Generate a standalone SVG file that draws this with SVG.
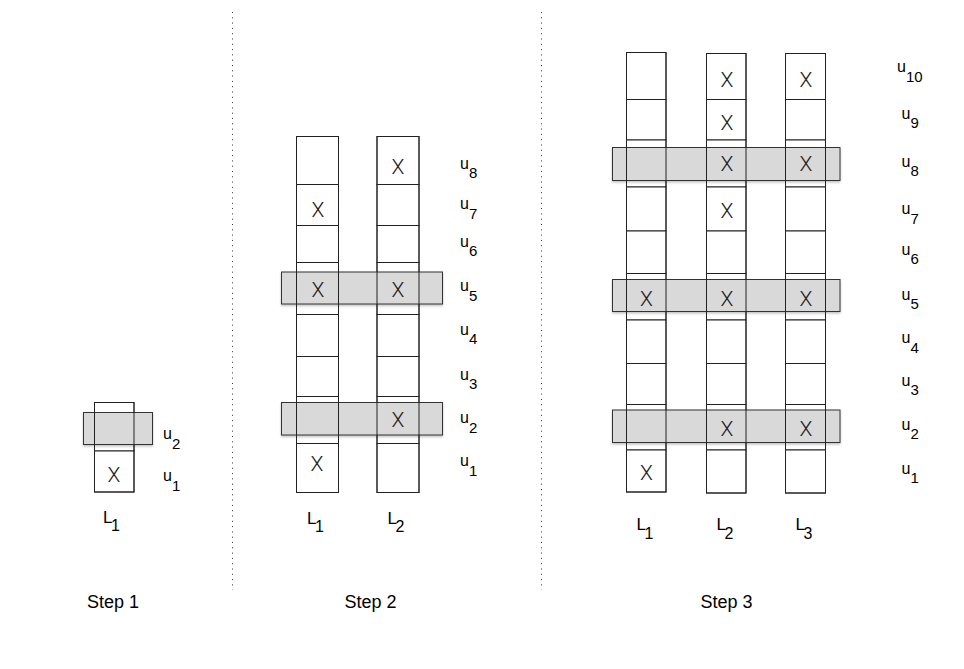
<svg xmlns="http://www.w3.org/2000/svg" width="964" height="669" viewBox="0 0 964 669">
<style>
.cell{fill:#fff;stroke:#222;stroke-width:1}
.col{fill:none;stroke:#222;stroke-width:1}
.band{fill:#d9d9d9;stroke:#333;stroke-width:1;filter:url(#sh)}
.x{font-family:Roboto,"Liberation Sans",sans-serif;font-weight:300;font-size:21px;fill:#222;text-anchor:middle}
.u{font-family:"Liberation Sans",Arial,sans-serif;font-size:16px;fill:#000}
.d{font-size:15px}
.L{font-family:"Liberation Sans",Arial,sans-serif;font-size:17px;fill:#000}
.Ld{font-size:16px}
.step{font-family:"Liberation Sans",Arial,sans-serif;font-size:18px;fill:#000;text-anchor:middle}
.sep{stroke:#333;stroke-width:1;stroke-dasharray:1 4.3;fill:none}
</style>
<defs>
<filter id="sh" x="-5%" y="-30%" width="110%" height="170%">
<feDropShadow dx="0" dy="1.5" stdDeviation="1.2" flood-color="#000" flood-opacity="0.25"/>
</filter>
</defs>
<rect width="964" height="669" fill="#fff"/>

<g id="separators">
<line class="sep" x1="232.5" y1="12" x2="232.5" y2="590"/>
<line class="sep" x1="541.5" y1="12" x2="541.5" y2="590"/>
</g>

<g id="step1">
<g id="s1-L1-cells">
<rect class="cell" x="94.5" y="402.5" width="39.5" height="48.5"/>
<rect class="cell" x="94.5" y="451" width="39.5" height="41"/>
</g>
<g id="s1-band-u2"><rect class="band" x="83.5" y="412.5" width="69" height="32"/></g>
<g id="s1-L1">
<rect class="col" x="94.5" y="402.5" width="39.5" height="89.5"/>
<text class="x" x="114" y="481.5">X</text>
</g>
<g id="s1-labels">
<text class="u" x="163" y="439">u<tspan class="d" dy="9.5">2</tspan></text>
<text class="u" x="163" y="481">u<tspan class="d" dy="9.5">1</tspan></text>
<text class="L" x="103" y="523">L<tspan class="Ld" dx="-1.5" dy="7.5">1</tspan></text>
</g>
<text class="step" x="113" y="608">Step 1</text>
</g>

<g id="step2">
<g id="s2-cells">
<rect class="cell" x="296.5" y="136.5" width="42" height="48"/>
<rect class="cell" x="296.5" y="184.5" width="42" height="41"/>
<rect class="cell" x="296.5" y="225.5" width="42" height="37"/>
<rect class="cell" x="296.5" y="262.5" width="42" height="52"/>
<rect class="cell" x="296.5" y="314.5" width="42" height="42"/>
<rect class="cell" x="296.5" y="356.5" width="42" height="40"/>
<rect class="cell" x="296.5" y="396.5" width="42" height="47"/>
<rect class="cell" x="296.5" y="443.5" width="42" height="49"/>
<rect class="cell" x="377" y="136.5" width="42" height="48"/>
<rect class="cell" x="377" y="184.5" width="42" height="41"/>
<rect class="cell" x="377" y="225.5" width="42" height="37"/>
<rect class="cell" x="377" y="262.5" width="42" height="52"/>
<rect class="cell" x="377" y="314.5" width="42" height="42"/>
<rect class="cell" x="377" y="356.5" width="42" height="40"/>
<rect class="cell" x="377" y="396.5" width="42" height="47"/>
<rect class="cell" x="377" y="443.5" width="42" height="49"/>
</g>
<g id="s2-band-u5"><rect class="band" x="281.5" y="272" width="161" height="32"/></g>
<g id="s2-band-u2"><rect class="band" x="281.5" y="402.5" width="161" height="32.5"/></g>
<g id="s2-L1">
<rect class="col" x="296.5" y="136.5" width="42" height="356"/>
<text class="x" x="318" y="216.5">X</text>
<text class="x" x="318" y="297">X</text>
<text class="x" x="317" y="471">X</text>
</g>
<g id="s2-L2">
<rect class="col" x="377" y="136.5" width="42" height="356"/>
<text class="x" x="398" y="173.5">X</text>
<text class="x" x="398" y="297">X</text>
<text class="x" x="398" y="427">X</text>
</g>
<g id="s2-labels">
<text class="u" x="460" y="168.5">u<tspan class="d" dy="9.5">8</tspan></text>
<text class="u" x="460" y="209.2">u<tspan class="d" dy="9.5">7</tspan></text>
<text class="u" x="460" y="246.5">u<tspan class="d" dy="9.5">6</tspan></text>
<text class="u" x="460" y="291">u<tspan class="d" dy="9.5">5</tspan></text>
<text class="u" x="460" y="334.5">u<tspan class="d" dy="9.5">4</tspan></text>
<text class="u" x="460" y="379.5">u<tspan class="d" dy="9.5">3</tspan></text>
<text class="u" x="460" y="423">u<tspan class="d" dy="9.5">2</tspan></text>
<text class="u" x="460" y="466">u<tspan class="d" dy="9.5">1</tspan></text>
<text class="L" x="307" y="524">L<tspan class="Ld" dx="-1.5" dy="7.5">1</tspan></text>
<text class="L" x="387.5" y="524">L<tspan class="Ld" dx="-1.5" dy="7.5">2</tspan></text>
</g>
<text class="step" x="370.5" y="608">Step 2</text>
</g>

<g id="step3">
<g id="s3-cells">
<rect class="cell" x="626.5" y="52.5" width="39.5" height="47"/>
<rect class="cell" x="626.5" y="99.5" width="39.5" height="40.5"/>
<rect class="cell" x="626.5" y="140" width="39.5" height="47"/>
<rect class="cell" x="626.5" y="187" width="39.5" height="44"/>
<rect class="cell" x="626.5" y="231" width="39.5" height="42.5"/>
<rect class="cell" x="626.5" y="273.5" width="39.5" height="46.5"/>
<rect class="cell" x="626.5" y="320" width="39.5" height="43.5"/>
<rect class="cell" x="626.5" y="363.5" width="39.5" height="41"/>
<rect class="cell" x="626.5" y="404.5" width="39.5" height="45.5"/>
<rect class="cell" x="626.5" y="450" width="39.5" height="42"/>
<rect class="cell" x="706.5" y="53.5" width="39.5" height="46"/>
<rect class="cell" x="706.5" y="99.5" width="39.5" height="40.5"/>
<rect class="cell" x="706.5" y="140" width="39.5" height="47"/>
<rect class="cell" x="706.5" y="187" width="39.5" height="44"/>
<rect class="cell" x="706.5" y="231" width="39.5" height="42.5"/>
<rect class="cell" x="706.5" y="273.5" width="39.5" height="46.5"/>
<rect class="cell" x="706.5" y="320" width="39.5" height="43.5"/>
<rect class="cell" x="706.5" y="363.5" width="39.5" height="41"/>
<rect class="cell" x="706.5" y="404.5" width="39.5" height="45.5"/>
<rect class="cell" x="706.5" y="450" width="39.5" height="43"/>
<rect class="cell" x="785.5" y="53.5" width="40" height="46"/>
<rect class="cell" x="785.5" y="99.5" width="40" height="40.5"/>
<rect class="cell" x="785.5" y="140" width="40" height="47"/>
<rect class="cell" x="785.5" y="187" width="40" height="44"/>
<rect class="cell" x="785.5" y="231" width="40" height="42.5"/>
<rect class="cell" x="785.5" y="273.5" width="40" height="46.5"/>
<rect class="cell" x="785.5" y="320" width="40" height="43.5"/>
<rect class="cell" x="785.5" y="363.5" width="40" height="41"/>
<rect class="cell" x="785.5" y="404.5" width="40" height="45.5"/>
<rect class="cell" x="785.5" y="450" width="40" height="43"/>
</g>
<g id="s3-band-u8"><rect class="band" x="612.5" y="147.5" width="227.5" height="33"/></g>
<g id="s3-band-u5"><rect class="band" x="612.5" y="279.5" width="227.5" height="32"/></g>
<g id="s3-band-u2"><rect class="band" x="612.5" y="410" width="227.5" height="32.5"/></g>
<g id="s3-L1">
<rect class="col" x="626.5" y="52.5" width="39.5" height="439.5"/>
<text class="x" x="646.5" y="306">X</text>
<text class="x" x="646.5" y="480">X</text>
</g>
<g id="s3-L2">
<rect class="col" x="706.5" y="53.5" width="39.5" height="439.5"/>
<text class="x" x="727" y="87">X</text>
<text class="x" x="727" y="129.5">X</text>
<text class="x" x="727" y="171">X</text>
<text class="x" x="727" y="217.5">X</text>
<text class="x" x="727" y="306">X</text>
<text class="x" x="727" y="436">X</text>
</g>
<g id="s3-L3">
<rect class="col" x="785.5" y="53.5" width="40" height="439.5"/>
<text class="x" x="806" y="87">X</text>
<text class="x" x="806" y="171">X</text>
<text class="x" x="806" y="306">X</text>
<text class="x" x="806" y="436">X</text>
</g>
<g id="s3-labels">
<text class="u" x="897" y="72">u<tspan class="d" dy="9.5">10</tspan></text>
<text class="u" x="901.5" y="118.8">u<tspan class="d" dy="9.5">9</tspan></text>
<text class="u" x="901.5" y="166.5">u<tspan class="d" dy="9.5">8</tspan></text>
<text class="u" x="901.5" y="214.2">u<tspan class="d" dy="9.5">7</tspan></text>
<text class="u" x="901.5" y="254.8">u<tspan class="d" dy="9.5">6</tspan></text>
<text class="u" x="901.5" y="299.5">u<tspan class="d" dy="9.5">5</tspan></text>
<text class="u" x="901.5" y="343.2">u<tspan class="d" dy="9.5">4</tspan></text>
<text class="u" x="901.5" y="385.5">u<tspan class="d" dy="9.5">3</tspan></text>
<text class="u" x="901.5" y="429.8">u<tspan class="d" dy="9.5">2</tspan></text>
<text class="u" x="901.5" y="473.8">u<tspan class="d" dy="9.5">1</tspan></text>
<text class="L" x="636.5" y="529.5">L<tspan class="Ld" dx="-1.5" dy="9">1</tspan></text>
<text class="L" x="716.5" y="529.5">L<tspan class="Ld" dx="-1.5" dy="9">2</tspan></text>
<text class="L" x="795.5" y="529.5">L<tspan class="Ld" dx="-1.5" dy="9">3</tspan></text>
</g>
<text class="step" x="726.5" y="608">Step 3</text>
</g>
</svg>
